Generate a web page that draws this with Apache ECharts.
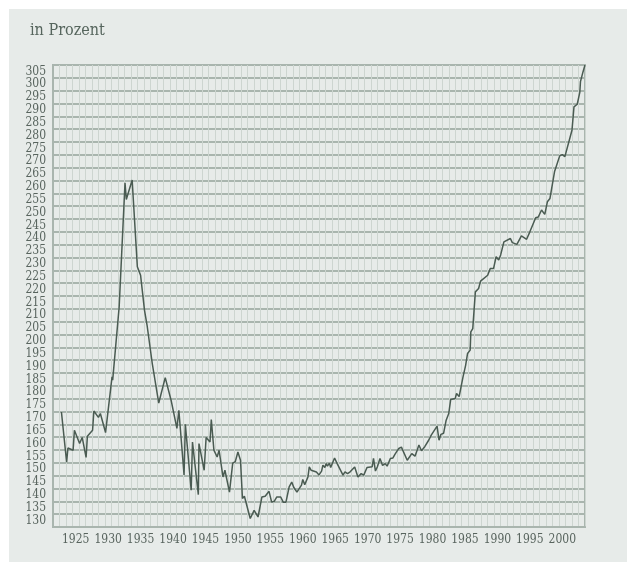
<!DOCTYPE html>
<html>
<head>
<meta charset="utf-8">
<script src="https://cdn.jsdelivr.net/npm/echarts@6/dist/echarts.min.js"></script>
<style>
  html, body { margin: 0; padding: 0; background: #fff; }
  #chart { position: absolute; left: 9px; top: 9px; width: 618px; height: 553px; background: #e7ebe9; }
</style>
</head>
<body>
<div id="chart"></div>
<script>
// Jahr (Dezimal) und Wert in Prozent
const years = [
  1922.8, 1923.6, 1923.8, 1924.6, 1924.8, 1925.6, 1926.0, 1926.6, 1926.8, 1927.6,
  1927.8, 1928.5, 1928.8, 1929.6, 1930.6, 1930.7, 1931.7, 1932.6, 1932.8, 1933.7,
  1934.5, 1935.0, 1935.6, 1936.0, 1936.8, 1937.8, 1938.8, 1939.7, 1940.0, 1940.6,
  1940.9, 1941.7, 1941.9, 1942.8, 1943.0, 1943.9, 1944.0, 1944.8, 1945.1, 1945.7,
  1945.9, 1946.3, 1946.8, 1947.1, 1947.7, 1948.0, 1948.7, 1949.2, 1949.6, 1950.0,
  1950.4, 1950.7, 1951.0, 1951.9, 1952.5, 1953.1, 1953.7, 1954.2, 1954.8, 1955.2,
  1955.6, 1956.0, 1956.3, 1956.6, 1957.0, 1957.4, 1957.9, 1958.3, 1958.6, 1959.1,
  1959.4, 1959.8, 1960.0, 1960.3, 1960.8, 1961.0, 1961.3, 1962.1, 1962.5, 1962.9,
  1963.1, 1963.4, 1963.6, 1963.8, 1964.1, 1964.3, 1964.9, 1965.3, 1965.5, 1966.2,
  1966.5, 1966.9, 1967.3, 1967.5, 1968.0, 1968.5, 1969.0, 1969.4, 1969.9, 1970.7,
  1970.9, 1971.2, 1971.5, 1971.9, 1972.3, 1972.7, 1973.0, 1973.5, 1973.9, 1974.2,
  1974.8, 1975.2, 1976.1, 1976.8, 1977.3, 1977.9, 1978.3, 1978.8, 1979.4, 1979.8,
  1980.1, 1980.7, 1981.0, 1981.3, 1981.7, 1982.1, 1982.5, 1982.8, 1983.5, 1983.7,
  1984.1, 1984.7, 1985.1, 1985.4, 1985.8, 1985.9, 1986.2, 1986.6, 1987.1, 1987.4,
  1988.5, 1988.9, 1989.4, 1989.8, 1990.2, 1990.5, 1991.0, 1991.3, 1992.0, 1992.3,
  1992.6, 1993.0, 1993.7, 1994.5, 1995.0, 1995.9, 1996.3, 1996.8, 1997.3, 1997.7,
  1998.1, 1998.8, 1999.6, 2000.0, 2000.4, 2001.5, 2001.8, 2002.3, 2002.7, 2002.8,
  2003.2, 2003.5
]
const values = [
  172.3, 152.8, 158.3, 157.4, 165.2, 160.0, 162.4, 154.6, 162.9, 165.2,
  172.7, 170.2, 171.7, 164.3, 186.0, 184.7, 213.3, 261.6, 255.1, 262.7,
  228.9, 225.6, 212.0, 206.1, 191.2, 175.8, 185.7, 176.9, 177.2, 165.9,
  173.0, 147.8, 167.5, 141.8, 160.6, 140.1, 160.0, 149.6, 162.4, 160.6,
  169.4, 157.4, 154.8, 157.4, 147.0, 149.6, 141.1, 152.4, 153.0, 156.7,
  153.5, 138.6, 139.5, 130.8, 134.0, 131.4, 139.2, 139.5, 141.4, 137.2,
  137.5, 139.2, 138.6, 139.2, 137.1, 137.1, 143.1, 145.0, 143.0, 141.1,
  140.7, 143.8, 146.0, 144.0, 147.0, 150.9, 149.6, 148.9, 147.8, 149.3,
  151.6, 150.7, 152.2, 151.2, 152.4, 150.7, 154.4, 152.2, 151.8, 147.7,
  149.0, 148.3, 149.0, 148.4, 150.9, 147.0, 148.3, 147.7, 150.7, 151.0,
  154.2, 149.3, 151.0, 154.2, 151.5, 152.2, 151.2, 154.2, 154.4, 155.8,
  158.1, 158.6, 153.5, 156.1, 155.1, 159.4, 157.2, 158.8, 161.3, 163.3,
  163.3, 166.8, 161.3, 163.6, 164.0, 169.1, 171.7, 177.2, 177.6, 179.5,
  178.3, 186.0, 190.5, 195.1, 196.4, 203.5, 204.8, 219.1, 220.4, 223.3,
  225.6, 228.2, 228.2, 232.8, 231.5, 233.5, 238.6, 238.0, 239.9, 238.3,
  238.8, 237.6, 240.9, 239.6, 242.5, 248.0, 248.3, 251.0, 249.3, 254.2,
  255.5, 265.9, 272.1, 272.6, 271.8, 282.2, 291.2, 292.2, 296.8, 301.0,
  304.9, 307.5
]

// Achsenbeschriftung
const yearLabels = []
for (let y = 1922; y <= 2003; y++) yearLabels.push(String(y))
const pctLabels = []
for (let p = 130; p <= 305; p += 5) pctLabels.push(String(p))

const font = '"DejaVu Serif Condensed", "DejaVu Serif", serif'
const textColor = '#58645e'
const gridColor = '#a9b5ae'

const chart = echarts.init(document.getElementById('chart'))
chart.setOption({
  animation: false,
  title: {
    text: 'in Prozent',
    left: 21,
    top: 14,
    padding: 0,
    textStyle: { fontFamily: font, fontSize: 16, fontWeight: 'normal', color: '#56655d' }
  },
  grid: {
    left: 44,
    top: 56,
    right: 42,
    bottom: 35,
    show: true,
    borderColor: gridColor,
    borderWidth: 2,
    backgroundColor: 'transparent'
  },
  xAxis: [{
    type: 'value',
    min: 1921.5,
    max: 2003.5,
    show: false
  }, {
    type: 'category',
    position: 'bottom',
    data: yearLabels,
    boundaryGap: true,
    axisLine: { show: true, lineStyle: { color: gridColor, width: 2 } },
    axisTick: { show: false, interval: 0 },
    axisLabel: {
      interval: (idx, val) => Number(val) % 5 === 0,
      fontFamily: font,
      fontSize: 12,
      color: textColor,
      margin: 7
    },
    splitLine: { show: true, interval: 0, lineStyle: { color: '#cdd5d0', width: 1 } }
  }],
  yAxis: [{
    type: 'value',
    min: 127.5,
    max: 307.5,
    show: false
  }, {
    type: 'category',
    position: 'left',
    data: pctLabels,
    boundaryGap: true,
    axisLine: { show: true, lineStyle: { color: gridColor, width: 2 } },
    axisTick: { show: false, interval: 0 },
    axisLabel: {
      interval: 0,
      fontFamily: font,
      fontSize: 12,
      color: textColor,
      margin: 7
    },
    splitLine: { show: true, interval: 0, lineStyle: { color: gridColor, width: 2 } }
  }],
  series: [{
    type: 'line',
    xAxisIndex: 0,
    yAxisIndex: 0,
    data: years.map((y, i) => [y, values[i]]),
    showSymbol: false,
    lineStyle: { color: '#4a5b52', width: 1.5 },
    z: 5
  }]
})
</script>
</body>
</html>
